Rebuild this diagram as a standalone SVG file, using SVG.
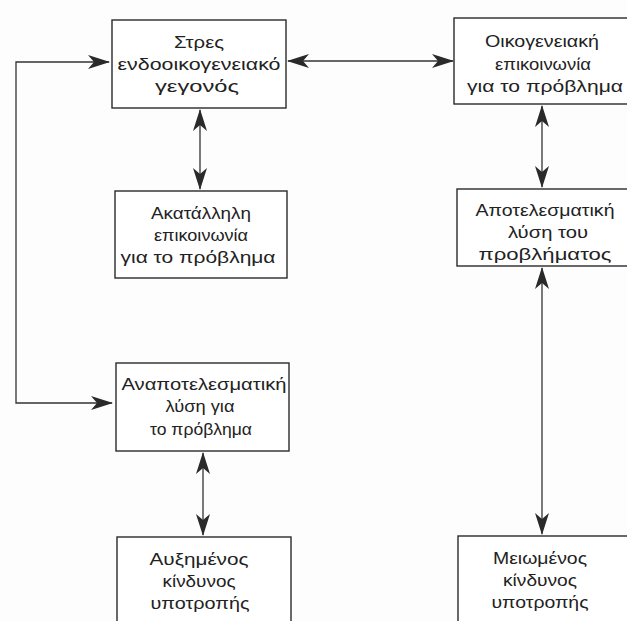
<svg xmlns="http://www.w3.org/2000/svg" width="627" height="621" viewBox="0 0 627 621">
<style>
.box{fill:#fff;stroke:#2a2a2a;stroke-width:1.4}
.t{font-family:"Liberation Sans",Arial,sans-serif;font-size:17px;fill:#222;text-anchor:middle}
.c{fill:none;stroke:#333;stroke-width:1.3}
</style>
<defs>
<marker id="ah" viewBox="0 0 22 14" refX="21" refY="7" markerWidth="22" markerHeight="14" markerUnits="userSpaceOnUse" orient="auto-start-reverse">
<path d="M0,0 L22,7 L0,14 L6,7 Z" fill="#2a2a2a"/>
</marker>
</defs>
<rect width="627" height="621" fill="#fdfdfd"/>
<g id="connectors">
<line class="c" x1="200" y1="110" x2="200" y2="189" marker-start="url(#ah)" marker-end="url(#ah)"/>
<line class="c" x1="288" y1="61" x2="453" y2="61" marker-start="url(#ah)" marker-end="url(#ah)"/>
<line class="c" x1="542" y1="106" x2="542" y2="187" marker-start="url(#ah)" marker-end="url(#ah)"/>
<line class="c" x1="542" y1="268" x2="542" y2="534" marker-start="url(#ah)" marker-end="url(#ah)"/>
<line class="c" x1="203" y1="453" x2="203" y2="535" marker-start="url(#ah)" marker-end="url(#ah)"/>
<polyline class="c" points="109,62 16,62 16,403 112,403" marker-start="url(#ah)" marker-end="url(#ah)"/>
</g>
<g id="n1">
<rect class="box" x="112" y="20" width="174" height="88"/>
<text class="t" x="199" y="48" textLength="50" lengthAdjust="spacingAndGlyphs">Στρες</text>
<text class="t" x="199" y="70" textLength="163" lengthAdjust="spacingAndGlyphs">ενδοοικογενειακό</text>
<text class="t" x="197" y="92" textLength="84" lengthAdjust="spacingAndGlyphs">γεγονός</text>
</g>
<g id="n2">
<rect class="box" x="115" y="191" width="172" height="87"/>
<text class="t" x="201" y="219" textLength="100" lengthAdjust="spacingAndGlyphs">Ακατάλληλη</text>
<text class="t" x="201" y="241" textLength="94" lengthAdjust="spacingAndGlyphs">επικοινωνία</text>
<text class="t" x="198" y="263" textLength="155" lengthAdjust="spacingAndGlyphs">για το πρόβλημα</text>
</g>
<g id="n3">
<rect class="box" x="116" y="363" width="173" height="88"/>
<text class="t" x="204" y="390" textLength="165" lengthAdjust="spacingAndGlyphs">Αναποτελεσματική</text>
<text class="t" x="200" y="412" textLength="69" lengthAdjust="spacingAndGlyphs">λύση για</text>
<text class="t" x="201" y="435" textLength="102" lengthAdjust="spacingAndGlyphs">το πρόβλημα</text>
</g>
<g id="n4">
<rect class="box" x="117" y="537" width="174" height="100"/>
<text class="t" x="199" y="565" textLength="99" lengthAdjust="spacingAndGlyphs">Αυξημένος</text>
<text class="t" x="199" y="587" textLength="73" lengthAdjust="spacingAndGlyphs">κίνδυνος</text>
<text class="t" x="200" y="609" textLength="99" lengthAdjust="spacingAndGlyphs">υποτροπής</text>
</g>
<g id="n5">
<rect class="box" x="454" y="18" width="190" height="86"/>
<text class="t" x="542" y="47" textLength="114" lengthAdjust="spacingAndGlyphs">Οικογενειακή</text>
<text class="t" x="543" y="70" textLength="96" lengthAdjust="spacingAndGlyphs">επικοινωνία</text>
<text class="t" x="545" y="92" textLength="156" lengthAdjust="spacingAndGlyphs">για το πρόβλημα</text>
</g>
<g id="n6">
<rect class="box" x="457" y="189" width="190" height="77"/>
<text class="t" x="545" y="216" textLength="139" lengthAdjust="spacingAndGlyphs">Αποτελεσματική</text>
<text class="t" x="548" y="238" textLength="80" lengthAdjust="spacingAndGlyphs">λύση του</text>
<text class="t" x="545" y="260" textLength="133" lengthAdjust="spacingAndGlyphs">προβλήματος</text>
</g>
<g id="n7">
<rect class="box" x="458" y="536" width="190" height="100"/>
<text class="t" x="540" y="564" textLength="94" lengthAdjust="spacingAndGlyphs">Μειωμένος</text>
<text class="t" x="540" y="586" textLength="74" lengthAdjust="spacingAndGlyphs">κίνδυνος</text>
<text class="t" x="540" y="608" textLength="97" lengthAdjust="spacingAndGlyphs">υποτροπής</text>
</g>
</svg>
